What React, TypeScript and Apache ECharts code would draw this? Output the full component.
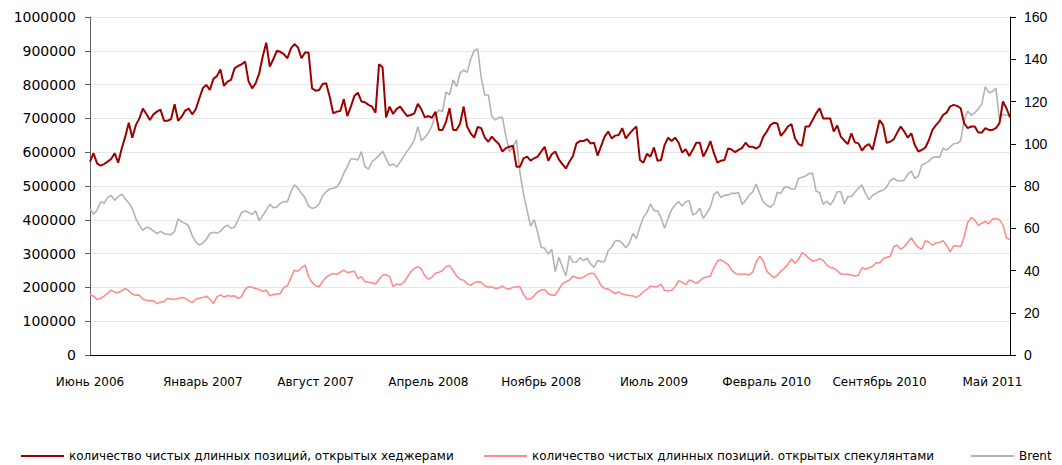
import React, { useEffect, useRef } from "react";
import * as echarts from "echarts";

// Tick labels on the category axis (one every 32 weekly points)
const tickLabels = [
  "Июнь 2006", "Январь 2007", "Август 2007", "Апрель 2008", "Ноябрь 2008",
  "Июль 2009", "Февраль 2010", "Сентябрь 2010", "Май 2011",
];
const labelStep = 32;

const seriesNames = [
  "количество чистых длинных позиций, открытых хеджерами",
  "количество чистых длинных позиций. открытых спекулянтами",
  "Brent",
];

// Net long positions of hedgers, thousands of contracts (weekly)
const hedgersK = [
  572, 597, 567, 560, 565, 572, 580, 597, 569, 611, 646, 687, 643, 680, 700, 729, 713, 695, 712, 720,
  726, 693, 693, 698, 742, 693, 705, 723, 729, 712, 727, 759, 789, 799, 784, 817, 825, 845,
  796, 809, 814, 848, 855, 860, 868, 809, 789, 804, 833, 883, 924, 853, 875, 900, 897, 890, 878, 907,
  920, 910, 878, 895, 895, 789, 782, 784, 802, 804, 764, 715, 720, 722, 757, 707, 735, 766, 776, 750,
  748, 740, 735, 717,
  860, 851, 703, 735, 713, 728, 735, 720, 707, 710, 715, 743, 727, 703, 707, 702, 720, 666, 666, 690,
  730, 666, 666, 685, 735, 675, 656, 643, 675, 671, 643, 631, 646, 634, 624, 602, 612, 616, 619, 557,
  557, 582, 587, 575, 582, 587, 602,
  616, 575, 594, 602, 579, 565, 552, 572, 589, 626, 633, 633, 639, 626, 628, 590, 618, 646, 661, 641,
  649, 651, 671, 641, 654, 666, 676, 577, 569, 595, 587, 614, 575, 577, 621, 643, 633, 643, 628, 599,
  609, 589, 607, 628, 628, 587,
  607, 633, 597, 569, 575, 577, 611, 608, 600, 607, 613, 628, 616, 616, 611, 618, 646, 661, 680, 687,
  685, 648, 661, 676, 683, 641, 624, 619, 676, 676, 695, 715, 730, 700, 700, 700, 661, 679, 646, 634,
  624, 656, 629, 626, 605,
  618, 624, 607, 651, 695, 680, 628, 631, 638, 658, 676, 661, 643, 656, 621, 602, 607, 614, 636, 666,
  680, 692, 710, 717, 735, 740, 737, 730, 685, 671, 676, 676, 658, 658, 671, 666, 666, 671, 685, 750,
  730, 703,
];

// Net long positions of speculators, thousands of contracts (weekly)
const speculatorsK = [
  179, 174, 164, 168, 174, 182, 192, 186, 184, 190, 197, 190, 180, 177, 177, 165, 162, 161, 160, 152,
  157, 158, 168, 165, 165, 167, 170, 168, 160, 155, 165, 168, 170, 174, 165, 152, 172, 178,
  171, 176, 174, 175, 168, 172, 195, 202, 200, 197, 194, 188, 192, 175, 179, 180, 182, 200, 205, 228,
  251, 248, 258, 266, 232, 215, 205, 202, 218, 230, 237, 241, 238, 245, 251, 244, 246, 248, 226, 232,
  217, 215, 214, 210,
  224, 236, 238, 232, 202, 210, 208, 214, 230, 246, 256, 261, 255, 234, 224, 230, 242, 245, 250, 262,
  264, 250, 234, 224, 221, 210, 206, 214, 217, 215, 205, 200, 202, 197, 198, 204, 197, 195, 200, 202,
  202, 178, 165, 166, 175, 187, 192,
  194, 181, 177, 177, 194, 210, 217, 221, 233, 229, 227, 230, 237, 242, 241, 225, 205, 197, 195, 188,
  182, 187, 180, 178, 176, 175, 170, 177, 187, 194, 204, 202, 202, 210, 191, 190, 191, 202, 220, 215,
  208, 222, 218, 212, 219, 228,
  231, 234, 258, 278, 282, 275, 268, 251, 242, 239, 239, 239, 237, 245, 275, 292, 278, 248, 238, 229,
  236, 248, 257, 268, 284, 271, 283, 303, 296, 285, 278, 280, 285, 280, 266, 259, 257, 249, 240, 239,
  239, 237, 234, 236, 258,
  254, 258, 262, 273, 272, 284, 289, 291, 320, 325, 313, 320, 333, 347, 330, 318, 313, 338, 334, 324,
  332, 333, 338, 325, 305, 323, 323, 320, 350, 392, 407, 399, 383, 390, 395, 388, 402, 404, 400, 385,
  346, 342,
];

// Brent, USD per barrel (weekly)
const brent = [
  69.1, 66.7, 68.5, 72.5, 71.8, 74.5, 75.5, 73.2, 75.0, 76.2, 74.0, 72.0, 69.5, 64.5, 61.5, 59.0, 60.5, 60.0, 58.8, 57.5,
  58.5, 57.5, 57.1, 57.0, 58.5, 64.5, 63.0, 62.4, 61.0, 56.5, 53.5, 52.0, 53.0, 54.8, 57.5, 58.1, 57.6, 58.5,
  60.5, 61.5, 60.0, 60.5, 63.9, 67.5, 68.2, 67.5, 66.5, 68.3, 63.6, 66.0, 68.6, 71.3, 69.7, 70.0, 71.8, 72.6, 72.6, 77.3,
  80.5, 78.9, 76.5, 74.5, 70.5, 69.4, 69.9, 71.5, 75.5, 77.2, 78.6, 78.9, 79.5, 82.0, 86.0, 89.2, 92.8, 92.8, 92.3, 96.3,
  89.2, 88.0, 91.5, 92.8,
  94.5, 96.5, 93.0, 89.5, 90.5, 89.0, 91.5, 94.0, 96.5, 98.8, 101.8, 108.1, 101.5, 103.0, 105.2, 108.5, 113.5, 116.0, 115.2, 124.5,
  123.1, 130.2, 127.0, 133.5, 134.9, 133.8, 140.0, 144.1, 144.9, 131.0, 123.1, 123.1, 113.0, 111.3, 112.5, 112.5, 103.4, 96.3, 98.5, 101.8,
  86.0, 76.0, 68.5, 61.0, 64.0, 58.0, 51.0,
  50.5, 47.8, 50.0, 39.5, 46.2, 41.8, 37.5, 47.0, 44.0, 43.9, 46.1, 44.7, 45.8, 43.2, 41.5, 44.7, 44.2, 44.2, 49.5, 51.0,
  54.0, 54.2, 53.0, 50.8, 52.9, 57.5, 55.2, 60.5, 65.2, 67.4, 71.5, 68.3, 68.3, 65.0, 60.0, 64.7, 68.8, 71.0, 72.6, 70.5,
  72.5, 73.0, 66.3, 67.2, 69.5, 64.7,
  67.1, 70.0, 76.0, 77.3, 74.5, 75.7, 75.7, 76.6, 76.5, 76.8, 71.3, 73.2, 75.7, 77.3, 80.9, 76.5, 72.5, 71.0, 69.9, 71.5,
  77.0, 76.5, 79.4, 79.4, 78.6, 78.6, 83.6, 84.1, 84.7, 86.0, 86.0, 77.6, 76.8, 71.3, 72.9, 71.0, 73.5, 77.3, 77.3, 71.5,
  75.0, 75.0, 77.0, 78.9, 80.5,
  76.5, 73.5, 75.5, 76.5, 77.5, 78.0, 79.5, 82.5, 83.6, 82.5, 82.4, 82.8, 85.5, 87.0, 83.6, 84.8, 90.0, 90.7, 91.8, 93.4,
  93.9, 93.5, 98.0, 97.0, 98.4, 100.0, 100.2, 101.5, 111.0, 115.5, 113.5, 114.6, 116.6, 118.8, 127.0, 124.2, 124.7, 126.2, 111.5, 114.0,
  113.5, 113.1,
];

const categories = hedgersK.map((_, i) => String(i));

const colors = ["#9E0000", "#FF8C8C", "#B3B3B3"];

export default function App() {
  const ref = useRef<HTMLDivElement>(null);

  useEffect(() => {
    if (!ref.current) return;
    const chart = echarts.init(ref.current, undefined, { renderer: "svg" });
    const legendText = { fontFamily: "DejaVu Sans", fontSize: 12, color: "#000" };
    const legendBase = {
      top: 445,
      padding: 5,
      icon: "rect",
      itemWidth: 43,
      itemHeight: 2,
      itemGap: 0,
      selectedMode: false,
      textStyle: legendText,
    };
    chart.setOption({
      animation: false,
      backgroundColor: "#fff",
      grid: { left: 90, right: 52, top: 17, bottom: 110, containLabel: false },
      legend: [
        { ...legendBase, left: 16, data: [seriesNames[0]] },
        { ...legendBase, left: 479, data: [seriesNames[1]] },
        { ...legendBase, left: 966, data: [seriesNames[2]] },
      ],
      xAxis: {
        type: "category",
        data: categories,
        boundaryGap: false,
        axisLine: { lineStyle: { color: "#000", width: 1 } },
        axisTick: { show: false },
        splitLine: { show: false },
        axisLabel: {
          interval: labelStep - 1,
          formatter: (_v: string, i: number) =>
            i % labelStep === 0 ? tickLabels[i / labelStep] ?? "" : "",
          fontFamily: "DejaVu Sans",
          fontSize: 12,
          color: "#000",
          margin: 21,
        },
      },
      yAxis: [
        {
          type: "value",
          min: 0,
          max: 1000000,
          interval: 100000,
          axisLine: { show: true, lineStyle: { color: "#606060", width: 1 } },
          axisTick: { show: true, length: 5, lineStyle: { color: "#606060" } },
          axisLabel: {
            formatter: (v: number) => String(v),
            fontFamily: "DejaVu Sans",
            fontSize: 14,
            color: "#000",
            margin: 14,
          },
          splitLine: { show: true, lineStyle: { color: "#E6E6E6", width: 1 } },
        },
        {
          type: "value",
          position: "right",
          min: 0,
          max: 160,
          interval: 20,
          axisLine: { show: true, lineStyle: { color: "#000", width: 1 } },
          axisTick: { show: true, length: 6, lineStyle: { color: "#000" } },
          axisLabel: {
            formatter: (v: number) => String(v),
            fontFamily: "Liberation Sans",
            fontSize: 14,
            color: "#000",
            margin: 14,
          },
          splitLine: { show: false },
        },
      ],
      series: [
        {
          name: seriesNames[0],
          type: "line",
          data: hedgersK.map((v) => v * 1000),
          yAxisIndex: 0,
          showSymbol: false,
          color: colors[0],
          lineStyle: { color: colors[0], width: 2 },
          z: 3,
        },
        {
          name: seriesNames[1],
          type: "line",
          data: speculatorsK.map((v) => v * 1000),
          yAxisIndex: 0,
          showSymbol: false,
          color: colors[1],
          lineStyle: { color: colors[1], width: 1.6 },
          z: 2,
        },
        {
          name: seriesNames[2],
          type: "line",
          data: brent,
          yAxisIndex: 1,
          showSymbol: false,
          color: colors[2],
          lineStyle: { color: colors[2], width: 1.6 },
          z: 2,
        },
      ],
    });
    return () => chart.dispose();
  }, []);

  return (
    <div
      ref={ref}
      style={{ position: "absolute", left: 0, top: 0, width: 1062, height: 465 }}
    />
  );
}
